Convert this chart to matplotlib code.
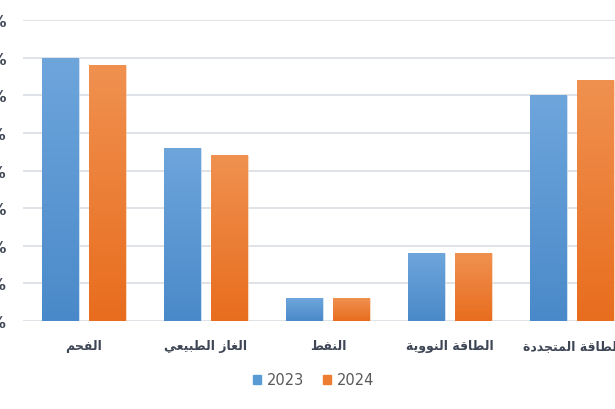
import numpy as np
import matplotlib
matplotlib.use('Agg')
from matplotlib import pyplot as plt
from matplotlib.colors import LinearSegmentedColormap
from matplotlib.patches import Patch

categories = ['الفحم', 'الغاز الطبيعي', 'النفط', 'الطاقة النووية', 'الطاقة المتجددة']
years = ['2023', '2024']
values_2023 = [35, 23, 3, 9, 30]
values_2024 = [34, 22, 3, 9, 32]
yticks = [0, 5, 10, 15, 20, 25, 30, 35, 40]

# arabic presentation forms: isolated, final, initial, medial
FORMS = {
    'ا': (0xFE8D, 0xFE8E, None, None), 'ب': (0xFE8F, 0xFE90, 0xFE91, 0xFE92),
    'ة': (0xFE93, 0xFE94, None, None), 'ت': (0xFE95, 0xFE96, 0xFE97, 0xFE98),
    'ج': (0xFE9D, 0xFE9E, 0xFE9F, 0xFEA0), 'ح': (0xFEA1, 0xFEA2, 0xFEA3, 0xFEA4),
    'د': (0xFEA9, 0xFEAA, None, None), 'ز': (0xFEAF, 0xFEB0, None, None),
    'ط': (0xFEC1, 0xFEC2, 0xFEC3, 0xFEC4), 'ع': (0xFEC9, 0xFECA, 0xFECB, 0xFECC),
    'غ': (0xFECD, 0xFECE, 0xFECF, 0xFED0), 'ف': (0xFED1, 0xFED2, 0xFED3, 0xFED4),
    'ق': (0xFED5, 0xFED6, 0xFED7, 0xFED8), 'ل': (0xFEDD, 0xFEDE, 0xFEDF, 0xFEE0),
    'م': (0xFEE1, 0xFEE2, 0xFEE3, 0xFEE4), 'ن': (0xFEE5, 0xFEE6, 0xFEE7, 0xFEE8),
    'و': (0xFEED, 0xFEEE, None, None), 'ي': (0xFEF1, 0xFEF2, 0xFEF3, 0xFEF4),
}


def shape(text):
    out = []
    for i, ch in enumerate(text):
        if ch not in FORMS:
            out.append(ch)
            continue
        prev = text[i - 1] if i > 0 else ''
        nxt = text[i + 1] if i + 1 < len(text) else ''
        jp = prev in FORMS and FORMS[prev][2] is not None
        jn = FORMS[ch][2] is not None and nxt in FORMS
        f = FORMS[ch]
        if jp and jn:
            code = f[3]
        elif jp:
            code = f[1]
        elif jn:
            code = f[2]
        else:
            code = f[0]
        out.append(chr(code))
    return ''.join(out)[::-1]


blue = LinearSegmentedColormap.from_list('b', ['#4a89c9', '#6ea6dc'])
orange = LinearSegmentedColormap.from_list('o', ['#e86d1e', '#f09150'])

fig = plt.figure(figsize=(6.15, 4.10), dpi=100)
ax = fig.add_axes([23 / 615, 88 / 410, 610 / 615, 301 / 410])

x = np.arange(len(categories))
w = 37 / 122
off = 23.5 / 122
grad = np.linspace(0, 1, 256).reshape(-1, 1)

for vals, dx, cmap, c in [(values_2023, -off, blue, '#5b9bd5'),
                          (values_2024, off, orange, '#ed7d31')]:
    bars = ax.bar(x + dx, vals, width=w, color=c, edgecolor=(1, 1, 1, 0.5),
                  linewidth=0.6, zorder=2)
    for b in bars:
        x0 = b.get_x()
        im = ax.imshow(grad, cmap=cmap, origin='lower', aspect='auto',
                       extent=[x0, x0 + b.get_width(), 0, b.get_height()],
                       zorder=2.5)
        im.set_clip_path(b)

ax.set_xlim(-0.5, len(categories) - 0.5)
ax.set_ylim(0, 40)
ax.set_yticks(yticks)
ax.set_yticklabels([f'{v}%' for v in yticks])
ax.set_xticks(x)
ax.set_xticklabels([shape(c) for c in categories], fontweight='bold',
                   fontsize=9, color='#3f4756')
ax.tick_params(axis='y', length=0, pad=12, labelsize=11, labelcolor='#3f4756')
ax.tick_params(axis='x', length=0, pad=13)
for lab in ax.get_yticklabels():
    lab.set_fontweight('bold')
ax.grid(axis='y', color='#d9dde2', linewidth=1.2, zorder=0)
ax.set_axisbelow(True)
for s in ax.spines.values():
    s.set_visible(False)

handles = [Patch(color='#5b9bd5'), Patch(color='#ed7d31')]
fig.legend(handles, years, loc='center', bbox_to_anchor=(314 / 615, 1 - 381 / 410),
           ncol=2, frameon=False, fontsize=10.5, handlelength=0.55, handleheight=0.55,
           handletextpad=0.4, columnspacing=1.3, labelcolor='#595959')

fig.savefig('out.png', dpi=100)
